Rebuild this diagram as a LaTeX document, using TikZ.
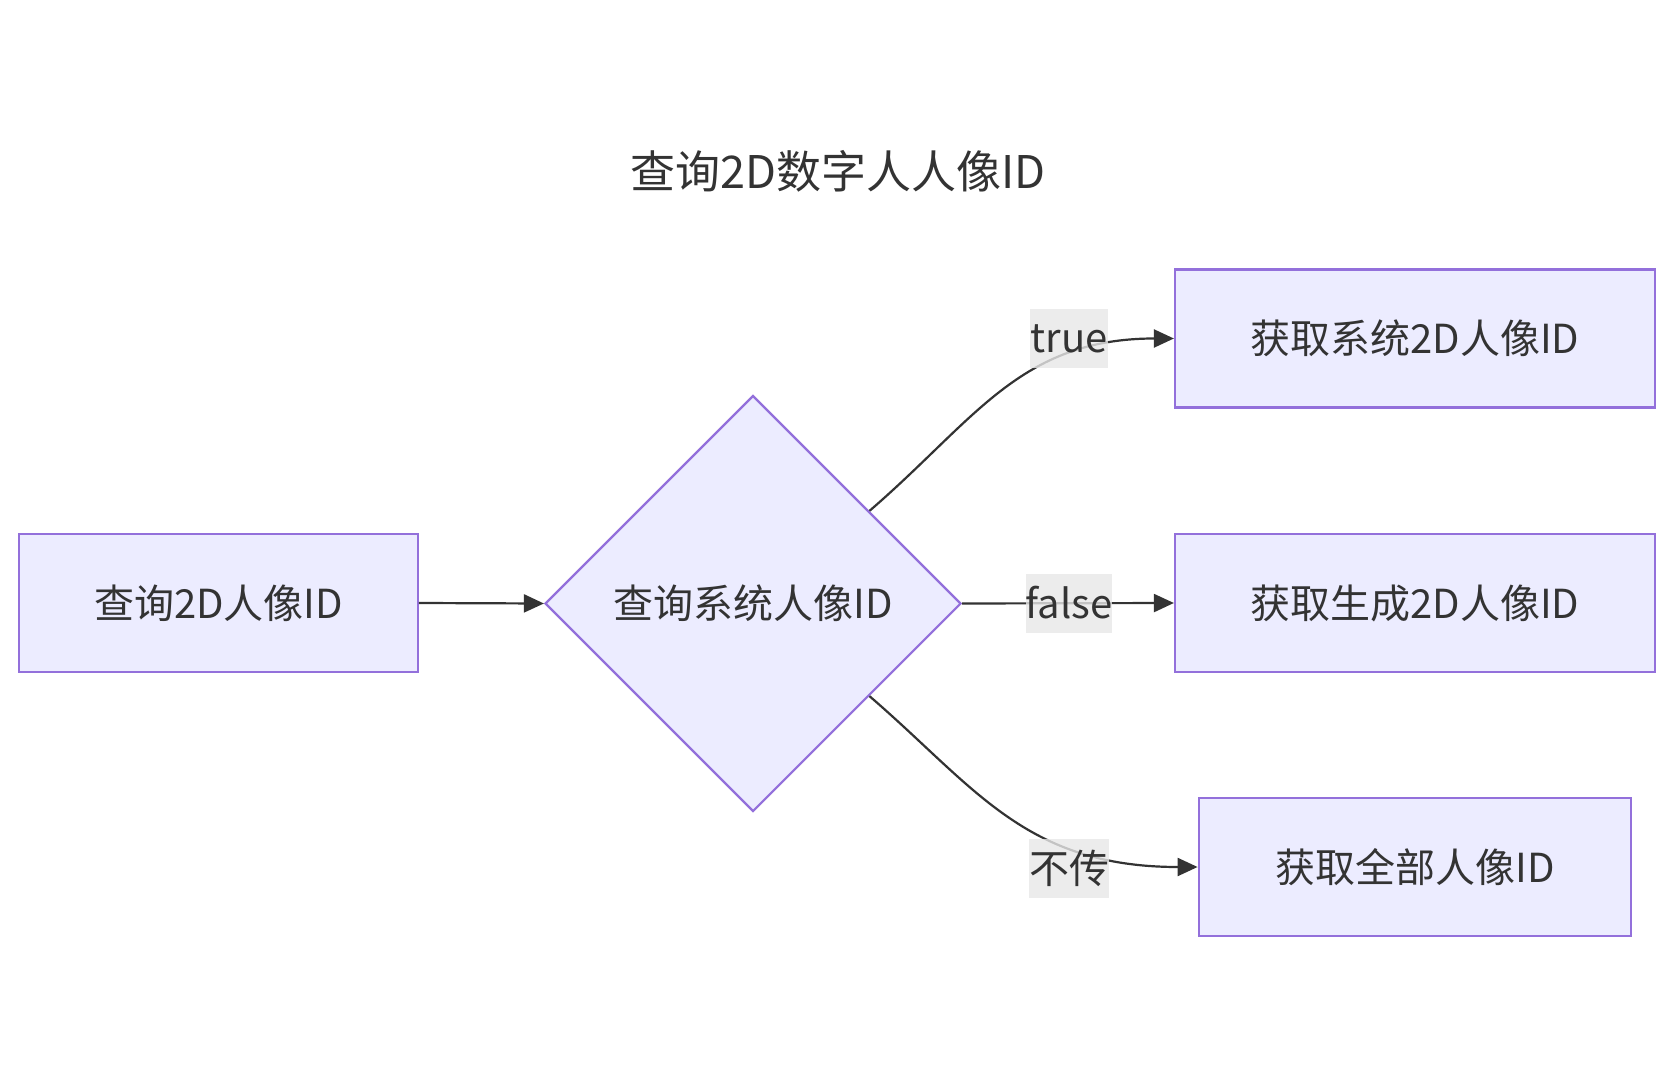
\documentclass[tikz,border=0pt]{standalone}
\usepackage{fontspec}
\setmainfont{Noto Sans CJK SC}
\usetikzlibrary{shapes.geometric,arrows.meta,calc}
\definecolor{nodefill}{HTML}{ECECFF}
\definecolor{nodeline}{HTML}{9370DB}
\definecolor{ink}{HTML}{333333}
\definecolor{labelbg}{HTML}{E8E8E8}
\begin{document}
\begin{tikzpicture}[x=0.5pt,y=-0.5pt,
  nodefont/.style={font=\fontsize{20}{24}\selectfont},
  box/.style={draw=nodeline, fill=nodefill, line width=1.1pt, text=ink, nodefont, inner sep=0pt, minimum height=69pt},
  dia/.style={diamond, draw=nodeline, fill=nodefill, line width=1.1pt, aspect=1, minimum width=208pt, minimum height=208pt, inner sep=0pt, text=ink, nodefont},
  lbl/.style={fill=labelbg, fill opacity=0.8, text opacity=1, text=ink, inner xsep=0pt, inner ysep=0pt, minimum height=29.5pt, nodefont},
  conn/.style={draw=ink, line width=1.1pt, -{Triangle[length=10pt,width=9pt]}},
  ttl/.style={text=ink, font=\fontsize{22.5}{27}\selectfont}]
\useasboundingbox (0,0) rectangle (1675,1080);
\fill[white] (0,0) rectangle (1675,1080);
\node[ttl] (title) at (838,171) {查询2D数字人人像ID};
\node[box, minimum width=199.25pt] (a) at (218.5,603) {查询2D人像ID};
\node[dia] (d) at (753,603.5) {查询系统人像ID};
\node[box, minimum width=240pt] (b) at (1415,338.5) {获取系统2D人像ID};
\node[box, minimum width=240pt] (c) at (1415,603) {获取生成2D人像ID};
\node[box, minimum width=216.3pt] (e) at (1415,867) {获取全部人像ID};
\coordinate (dt) at ($(d.north)!0.557!(d.east)$);
\coordinate (db) at ($(d.south)!0.557!(d.east)$);
\draw[conn] (a.east) -- (d.west);
\draw[conn] (dt) .. controls (975,420) and (1020,338.5) .. (b.west);
\draw[conn] (d.east) -- (c.west);
\draw[conn] (db) .. controls (975,787) and (1025,867) .. (e.west);
\node[lbl] (lt) at (1069,339) {true};
\node[lbl] (lf) at (1069,603) {false};
\node[lbl] (ln) at (1069,868) {不传};
\end{tikzpicture}
\end{document}
